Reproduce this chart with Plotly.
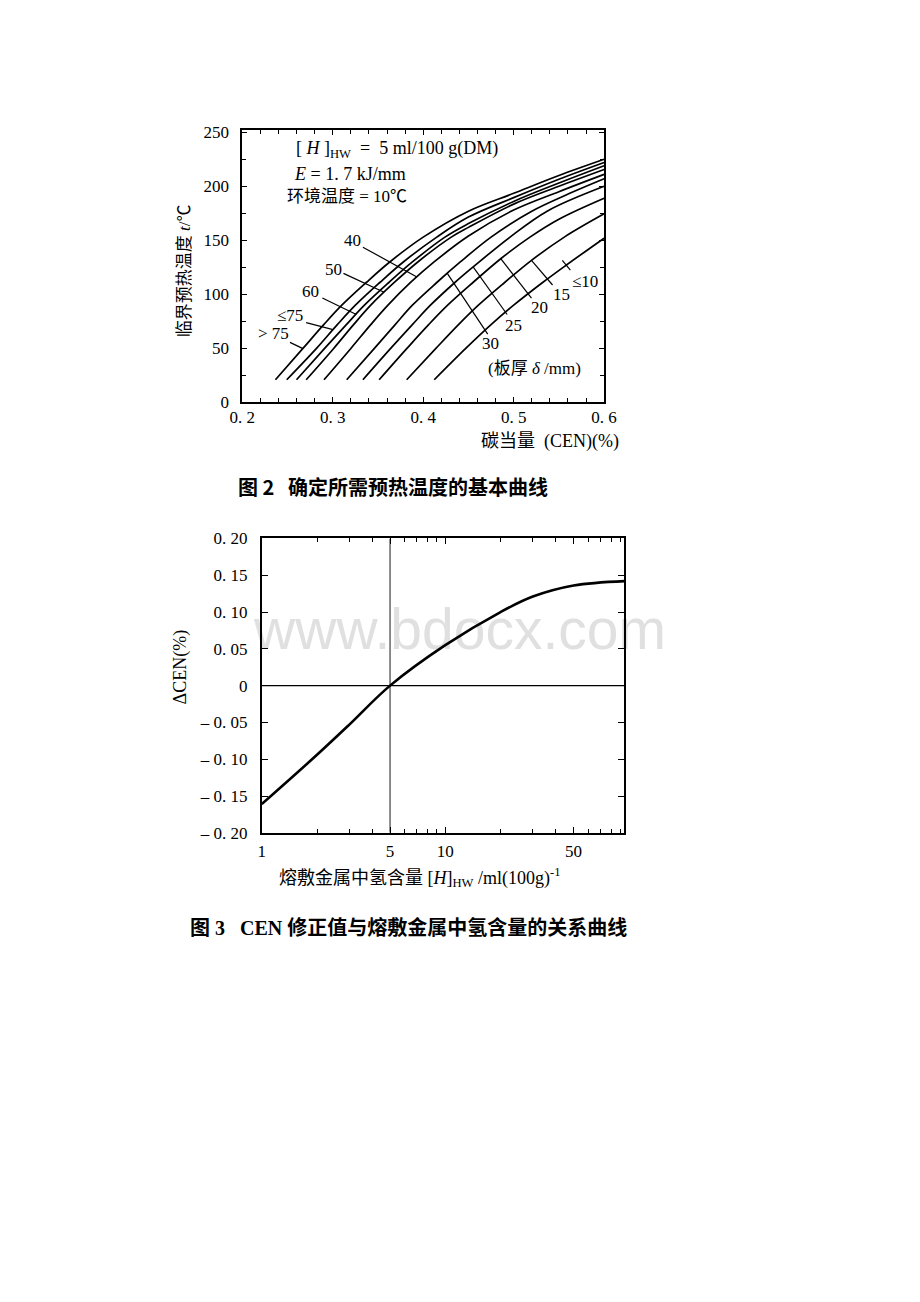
import plotly.graph_objects as go

W, H = 920, 1302


def px(x):
    return x / W


def py(y):
    return 1 - y / H


# ---------------- Figure 2: critical preheat temperature vs CEN ----------------
plate_labels = ["> 75", "≤75", "60", "50", "40", "30", "25", "20", "15", "≤10"]

cen_gt75 = [0.2366, 0.267, 0.29, 0.31, 0.337, 0.363, 0.40, 0.45, 0.50, 0.55, 0.60]
t_gt75 = [21, 50, 72, 90, 111, 130, 153, 177, 193.5, 210, 225]

cen_le75 = [0.2491, 0.282, 0.305, 0.325, 0.352, 0.378, 0.415, 0.45, 0.50, 0.55, 0.60]
t_le75 = [21, 50, 72, 90, 111, 130, 153, 171.5, 189.5, 206.5, 222]

cen_60 = [0.2599, 0.291, 0.315, 0.335, 0.362, 0.388, 0.424, 0.45, 0.50, 0.55, 0.60]
t_60 = [21, 50, 72, 90, 111, 130, 153, 165.5, 186, 203, 219]

cen_50 = [0.2706, 0.301, 0.323, 0.342, 0.368, 0.394, 0.431, 0.45, 0.50, 0.55, 0.60]
t_50 = [21, 50, 72, 90, 111, 130, 153, 162, 183.5, 200, 215.5]

cen_40 = [0.2903, 0.320, 0.342, 0.361, 0.386, 0.412, 0.45, 0.50, 0.55, 0.60]
t_40 = [21, 50, 72, 90, 111, 130, 154, 178, 195, 211]

cen_30 = [0.3154, 0.346, 0.369, 0.388, 0.415, 0.441, 0.475, 0.52, 0.562, 0.60]
t_30 = [21, 50, 72, 90, 111, 130, 153, 177, 193.5, 207]

cen_25 = [0.3333, 0.364, 0.388, 0.408, 0.435, 0.4552, 0.496, 0.537, 0.60]
t_25 = [21, 50, 72, 90, 111, 125.4, 153, 177, 200]

cen_20 = [0.3513, 0.382, 0.406, 0.427, 0.455, 0.4857, 0.518, 0.551, 0.60]
t_20 = [21, 50, 72, 90, 111, 133, 153, 170, 189]

cen_15 = [0.3817, 0.414, 0.439, 0.461, 0.49, 0.5197, 0.556, 0.60]
t_15 = [21, 50, 72, 90, 111, 131.5, 153, 174.5]

cen_le10 = [0.4122, 0.447, 0.475, 0.50, 0.532, 0.558, 0.60]
t_le10 = [21, 50, 72, 90, 111, 127, 152]

top_curves = [
    (cen_gt75, t_gt75), (cen_le75, t_le75), (cen_60, t_60), (cen_50, t_50),
    (cen_40, t_40), (cen_30, t_30), (cen_25, t_25), (cen_20, t_20),
    (cen_15, t_15), (cen_le10, t_le10),
]

top_x_ticks = [0.2, 0.3, 0.4, 0.5, 0.6]
top_x_ticktext = ["0. 2", "0. 3", "0. 4", "0. 5", "0. 6"]
top_y_ticks = [0, 50, 100, 150, 200, 250]
top_y_ticktext = ["0", "50", "100", "150", "200", "250"]

# ---------------- Figure 3: CEN correction vs hydrogen content ----------------
h_content = [1, 2, 3, 5, 10, 20, 30, 50, 95]
delta_cen = [-0.161, -0.094, -0.053, 0.0, 0.055, 0.100, 0.121, 0.136, 0.142]
ref_h = 5
ref_dcen = 0.0

bot_x_ticks = [1, 5, 10, 50]
bot_x_ticktext = ["1", "5", "10", "50"]
bot_x_minor = [2, 3, 4, 6, 7, 8, 9, 20, 30, 40, 60, 70, 80, 90]
bot_y_ticks = [-0.20, -0.15, -0.10, -0.05, 0, 0.05, 0.10, 0.15, 0.20]
bot_y_ticktext = ["– 0. 20", "– 0. 15", "– 0. 10", "– 0. 05", "0",
                  "0. 05", "0. 10", "0. 15", "0. 20"]

SERIF = "Liberation Serif, Noto Sans CJK SC"
CJK = "Noto Sans CJK SC, Liberation Serif"

fig = go.Figure()

for cx, ty in top_curves:
    fig.add_trace(go.Scatter(
        x=cx, y=ty, mode="lines", xaxis="x", yaxis="y",
        line=dict(color="black", width=1.7, shape="spline", smoothing=1.0),
        showlegend=False, hoverinfo="skip"))

fig.add_trace(go.Scatter(
    x=h_content, y=delta_cen, mode="lines", xaxis="x2", yaxis="y2",
    line=dict(color="black", width=2.6, shape="spline", smoothing=1.0),
    showlegend=False, hoverinfo="skip"))
fig.add_trace(go.Scatter(
    x=[ref_h, ref_h], y=[-0.2, 0.2], mode="lines", xaxis="x2", yaxis="y2",
    line=dict(color="black", width=0.9), showlegend=False, hoverinfo="skip"))
fig.add_trace(go.Scatter(
    x=[1, 100], y=[ref_dcen, ref_dcen], mode="lines", xaxis="x2", yaxis="y2",
    line=dict(color="black", width=1.1), showlegend=False, hoverinfo="skip"))

# leader lines (label -> curve) of figure 2
leaders = [
    ((0.2527, 55.6), (0.2670, 49.8)),
    ((0.2706, 73.8), (0.2992, 67.7)),
    ((0.2885, 96.6), (0.3261, 81.4)),
    ((0.3118, 119.4), (0.3567, 102.0)),
    ((0.3333, 143.7), (0.3925, 116.3)),
    ((0.4266, 119.4), (0.4713, 63.2)),
    ((0.4552, 125.4), (0.4928, 81.4)),
    ((0.4857, 133.1), (0.5197, 96.6)),
    ((0.5197, 131.5), (0.5430, 108.7)),
    ((0.5538, 131.5), (0.5627, 122.4)),
]
label_pos = [
    (0.2345, 64.0), (0.2527, 80.3), (0.2751, 103.1), (0.3011, 122.9), (0.3215, 150.3),
    (0.4740, 54.5), (0.5000, 71.2), (0.5287, 87.9), (0.5527, 100.1), (0.5785, 112.3),
]

shapes = []
for (a, b) in leaders:
    shapes.append(dict(type="line", xref="x", yref="y", x0=a[0], y0=a[1], x1=b[0], y1=b[1],
                       line=dict(color="black", width=1.2)))

# watermark (behind data)
shapes.append(dict(type="rect", xref="paper", yref="paper",
                   x0=px(250), x1=px(670), y0=py(647), y1=py(602),
                   line=dict(width=0), fillcolor="rgba(0,0,0,0)", layer="below",
                   label=dict(text="www.bdocx.com", textposition="middle center",
                              font=dict(family="Liberation Sans, Arial", size=57, color="#e0e0e0"))))


def ann(x, y, text, size=17, family=SERIF, xa="center", ya="middle", angle=0, ref="paper"):
    d = dict(x=x, y=y, xref=ref, yref=ref, text=text, showarrow=False,
             xanchor=xa, yanchor=ya, textangle=angle,
             font=dict(family=family, size=size, color="black"))
    if ref != "paper":
        d["xref"], d["yref"] = "x", "y"
    return d


annotations = []
for lab, (lx, ly) in zip(plate_labels, label_pos):
    annotations.append(ann(lx, ly, lab, size=17, ref="data"))

annotations += [
    ann(px(536.7), py(364.5), "(板厚 <i>δ</i> /mm)", size=17),
    ann(px(289), py(143), "[ <i>H</i> ]<sub>HW</sub>  =  5 ml/100 g(DM)", size=18, xa="left"),
    ann(px(287), py(167.5), "<i>E</i> = 1. 7 kJ/mm", size=18, xa="left"),
    ann(px(280), py(190), "环境温度 = 10℃", size=17, xa="left"),
    # axis titles of figure 2
    ann(px(176), py(266), "临界预热温度 <i>t</i>/℃", size=17, angle=-90),
    ann(px(626), py(439), "碳当量  (CEN)(%)", size=18, xa="right"),
    # caption 2
    ann(px(229), py(485), "<b>图 2   确定所需预热温度的基本曲线</b>", size=20, family=CJK, xa="left"),
    # axis titles of figure 3
    ann(px(172), py(668), "ΔCEN(%)", size=18, angle=-90),
    ann(px(418), py(881), "熔敷金属中氢含量 [<i>H</i>]<sub>HW</sub> /ml(100g)<sup>-1</sup>", size=18),
    # caption 3
    ann(px(634), py(932), "<b>图 3   CEN 修正值与熔敷金属中氢含量的关系曲线</b>", size=20, xa="right"),
]

axis_common = dict(showline=True, linecolor="black", mirror="ticks", showgrid=False,
                   zeroline=False, ticks="inside", tickcolor="black")

fig.update_layout(
    width=W, height=H,
    margin=dict(l=0, r=0, t=0, b=0),
    paper_bgcolor="white", plot_bgcolor="rgba(0,0,0,0)",
    font=dict(family=SERIF, color="black"),
    showlegend=False,
    xaxis=dict(domain=[px(236), px(608.3)], range=[0.2, 0.6], anchor="y",
               tickmode="array", tickvals=top_x_ticks, ticktext=top_x_ticktext,
               ticklen=5, tickwidth=1.2, linewidth=2,
               tickfont=dict(family=SERIF, size=17, color="black"), ticklabelstandoff=-2,
               minor=dict(tickmode="linear", tick0=0.2, dtick=0.02, ticks="inside",
                          ticklen=4, tickwidth=1, tickcolor="black"),
               **axis_common),
    yaxis=dict(domain=[py(399.3), py(123)], range=[0, 251.9], anchor="x",
               tickmode="array", tickvals=top_y_ticks, ticktext=top_y_ticktext,
               ticklen=5, tickwidth=1.2, linewidth=2,
               tickfont=dict(family=SERIF, size=17, color="black"), ticklabelstandoff=8,
               minor=dict(tickmode="linear", tick0=0, dtick=25, ticks="inside",
                          ticklen=4, tickwidth=1, tickcolor="black"),
               **axis_common),
    xaxis2=dict(domain=[px(256), px(629)], type="log", range=[0, 1.975], anchor="y2",
                tickmode="array", tickvals=bot_x_ticks, ticktext=bot_x_ticktext,
                ticklen=6, tickwidth=1.2, linewidth=1.8,
                tickfont=dict(family=SERIF, size=17, color="black"), ticklabelstandoff=2,
                minor=dict(tickmode="array", tickvals=bot_x_minor, ticks="inside",
                           ticklen=4, tickwidth=1, tickcolor="black"),
                **axis_common),
    yaxis2=dict(domain=[py(836), py(537.3)], range=[-0.2, 0.2], anchor="x2",
                tickmode="array", tickvals=bot_y_ticks, ticktext=bot_y_ticktext,
                ticklen=6, tickwidth=1.2, linewidth=1.8,
                tickfont=dict(family=SERIF, size=17, color="black"), ticklabelstandoff=9,
                **axis_common),
    shapes=shapes,
    annotations=annotations,
)

fig.write_html("out.html")
